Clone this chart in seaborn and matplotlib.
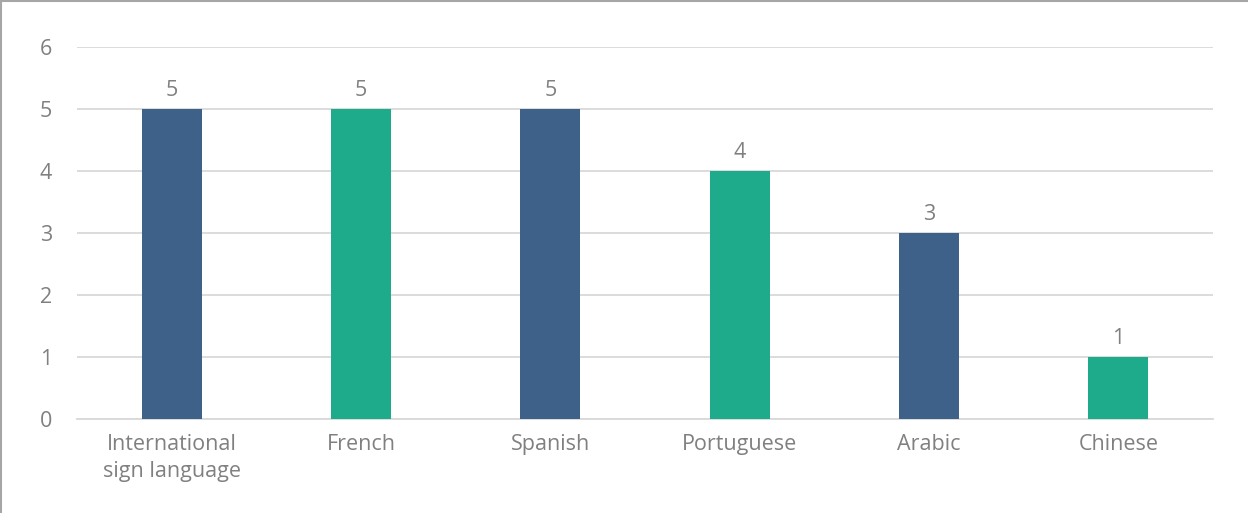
import matplotlib
matplotlib.use("Agg")
import matplotlib.pyplot as plt
import matplotlib.lines as mlines
import seaborn as sns
import pandas as pd

categories = ["International\nsign language", "French", "Spanish", "Portuguese", "Arabic", "Chinese"]
values = [5, 5, 5, 4, 3, 1]
bar_colors = ["#3E6189", "#1DAB8C", "#3E6189", "#1DAB8C", "#3E6189", "#1DAB8C"]
yticks = [0, 1, 2, 3, 4, 5, 6]

sns.set_theme(style="white")
plt.rcParams['font.family'] = ['Open Sans', 'DejaVu Sans']

df = pd.DataFrame({"cat": categories, "val": values})

fig = plt.figure(figsize=(12.48, 5.13), dpi=100)
ax = fig.add_axes([77/1248, 1-419/513, (1213-77)/1248, (419-47)/513])

sns.barplot(data=df, x="cat", y="val", hue="cat", palette=bar_colors, legend=False,
            width=0.317, saturation=1, ax=ax, zorder=3, linewidth=0)

ax.set_ylim(0, 6)
ax.set_yticks(yticks)
ax.set_xlim(-0.5, len(categories) - 0.5)
ax.yaxis.grid(True, color="#D9D9D9", linewidth=1.3, zorder=0)
ax.set_axisbelow(True)
for s in ["top", "right", "left"]:
    ax.spines[s].set_visible(False)
ax.spines["bottom"].set_color("#D9D9D9")
ax.spines["bottom"].set_linewidth(1.3)
ax.set_xlabel("")
ax.set_ylabel("")
ax.tick_params(axis="both", length=0, colors="#808080", labelsize=15.5)
ax.tick_params(axis="y", pad=18)
ax.tick_params(axis="x", pad=11)
for lbl in ax.get_xticklabels() + ax.get_yticklabels():
    lbl.set_color("#808080")
    lbl.set_linespacing(1.35)

for c in ax.containers:
    ax.bar_label(c, fmt="%g", padding=6, color="#808080", fontsize=15.5)

# figure border (left and top only)
fig.add_artist(mlines.Line2D([1/1248, 1/1248], [0, 1], transform=fig.transFigure,
                             color="#A6A6A6", linewidth=1.5))
fig.add_artist(mlines.Line2D([0, 1], [1 - 1/513, 1 - 1/513], transform=fig.transFigure,
                             color="#A6A6A6", linewidth=1.5))

fig.savefig("out.png", dpi=100)
